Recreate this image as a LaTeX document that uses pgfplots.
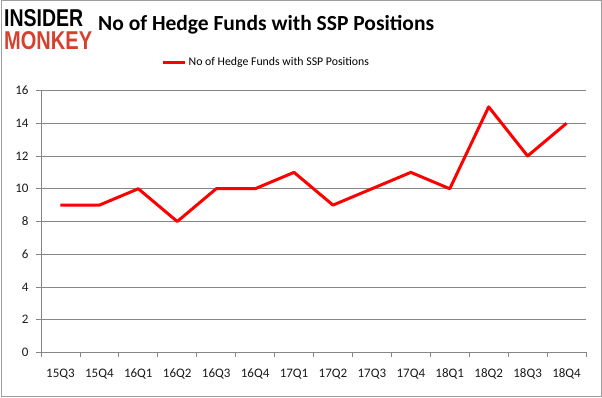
\documentclass[border=0pt]{standalone}
\usepackage{pgfplots}
\pgfplotsset{compat=1.18}
\usepackage{fontspec}
\setmainfont{Carlito}
\newfontfamily\logofont{Liberation Sans}
\definecolor{gridgray}{RGB}{134,134,134}
\definecolor{logored}{RGB}{214,64,44}
\begin{document}
\begin{tikzpicture}[x=1pt,y=1pt]
\path[use as bounding box] (0,0) rectangle (602,398);
\draw[gridgray!80, line width=1pt] (1,1) rectangle (601,397);
% logo
\node[anchor=west, inner sep=0, text=black] at (4,379.5) {\resizebox{79pt}{17pt}{\logofont\bfseries INSIDER}};
\node[anchor=west, inner sep=0, text=logored] at (4,357) {\resizebox{88pt}{18pt}{\logofont\bfseries MONKEY}};
% title
\node[anchor=west, inner sep=0] at (98,373) {\fontsize{21.5}{24}\selectfont\bfseries No of Hedge Funds with SSP Positions};
\begin{axis}[
  at={(41pt,45.5pt)}, anchor=south west,
  scale only axis, width=545pt, height=262pt,
  xmin=-0.5, xmax=13.5, ymin=0, ymax=16,
  ytick={0,2,...,16},
  xtick={0,...,13},
  xticklabels={15Q3,15Q4,16Q1,16Q2,16Q3,16Q4,17Q1,17Q2,17Q3,17Q4,18Q1,18Q2,18Q3,18Q4},
  minor xtick={-0.5,0.5,...,13.5},
  major x tick style={draw=none},
  axis x line*=bottom, axis y line*=left,
  axis line style={gridgray, line width=0.8pt},
  tick style={gridgray, line width=0.8pt},
  tick align=outside,
  major tick length=5pt, minor tick length=5pt,
  ymajorgrids, grid style={gridgray, line width=0.8pt},
  tick label style={font=\fontsize{13}{15}\selectfont, text=black!90},
  /pgf/number format/assume math mode=true,
  xticklabel style={yshift=-8pt},
  yticklabel style={xshift=-4pt},
  legend style={at={(0.222,1.107)}, anchor=west, draw=none, fill=none, inner sep=0pt, font=\fontsize{11.8}{14}\selectfont, legend cell align=left},
  legend image code/.code={\draw[#1, line width=2.5pt] (0pt,0pt) -- (22pt,0pt);},
  clip=false,
]
\addplot[color=red, line width=3pt, line join=round] coordinates {
(0,9) (1,9) (2,10) (3,8) (4,10) (5,10) (6,11) (7,9) (8,10) (9,11) (10,10) (11,15) (12,12) (13,14)
};
\addlegendentry{No of Hedge Funds with SSP Positions}
\end{axis}
\end{tikzpicture}
\end{document}
